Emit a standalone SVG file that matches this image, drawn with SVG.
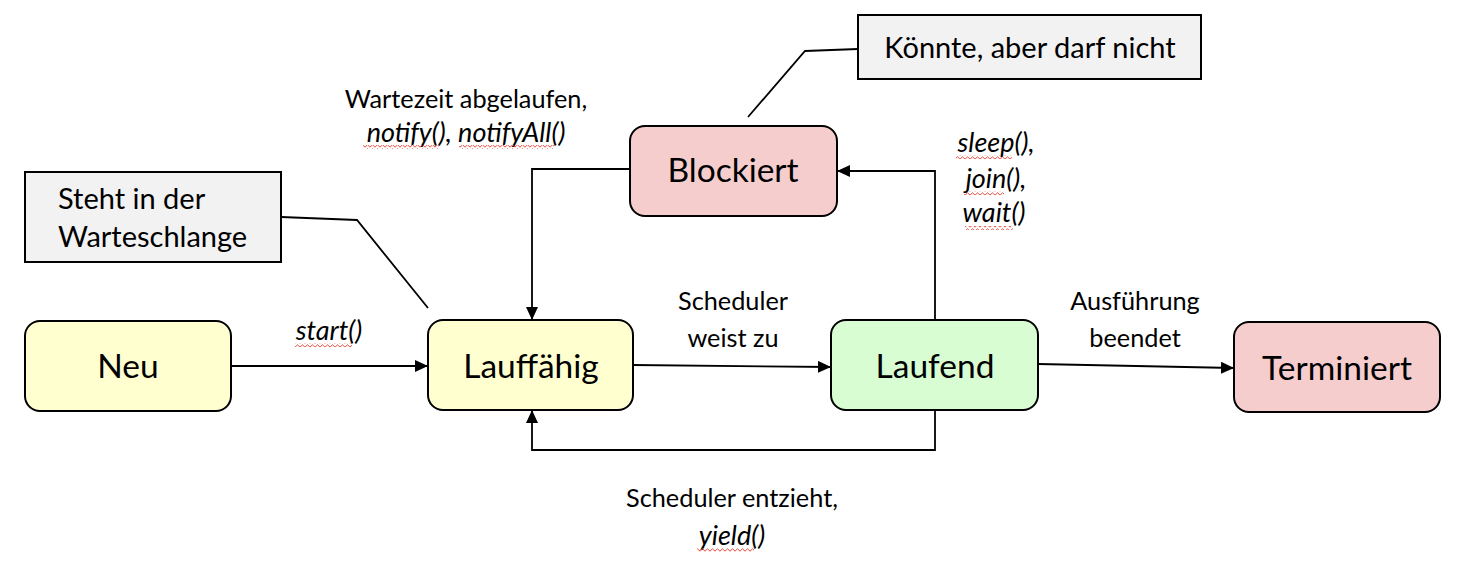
<svg xmlns="http://www.w3.org/2000/svg" width="1458" height="578" viewBox="0 0 1458 578">
<style>
.node{stroke:#000;stroke-width:2}
.y{fill:#FFFFCF}
.g{fill:#D8FDD2}
.r{fill:#F6CDCD}
.note{fill:#F2F2F2;stroke:#000;stroke-width:2}
.nl{font-family:Lato,"Open Sans",sans-serif;font-size:33.5px;fill:#000;text-anchor:middle}
.lb{font-family:Lato,"Open Sans",sans-serif;font-size:25.3px;fill:#000;text-anchor:middle}
.it{font-style:italic;font-size:27px}
.nt{font-family:Lato,"Open Sans",sans-serif;font-size:29px;fill:#000}
.conn{fill:none;stroke:#000;stroke-width:1.8}
.sq{fill:url(#squig)}
</style>
<defs>
<marker id="arr" viewBox="0 0 13 12" refX="13" refY="6" markerWidth="13" markerHeight="12" markerUnits="userSpaceOnUse" orient="auto">
<path d="M0,0 L13,6 L0,12 Z" fill="#000"/>
</marker>
<pattern id="squig" width="5" height="4" patternUnits="userSpaceOnUse">
<path d="M0,3.2 L2.5,0.8 L5,3.2" fill="none" stroke="#E8453A" stroke-width="1"/>
</pattern>
</defs>

<g id="connectors">
<path class="conn" d="M232,366 L428,366" marker-end="url(#arr)"/>
<path class="conn" d="M633,365 L831,367" marker-end="url(#arr)"/>
<path class="conn" d="M1038,364 L1234,368" marker-end="url(#arr)"/>
<path class="conn" d="M935,320 L935,171 L837,171" marker-end="url(#arr)"/>
<path class="conn" d="M630,169 L532,169 L532,320" marker-end="url(#arr)"/>
<path class="conn" d="M935,410 L935,450 L532,450 L532,410" marker-end="url(#arr)"/>
<path class="conn" d="M281,217 L357,220 L428,308"/>
<path class="conn" d="M858,49 L805,51 L748,117"/>
</g>

<g id="neu">
<rect class="node y" x="25" y="321" width="206" height="90" rx="15"/>
<text class="nl" x="128" y="378">Neu</text>
</g>
<g id="lauffaehig">
<rect class="node y" x="428" y="320" width="205" height="90" rx="15"/>
<text class="nl" x="531" y="378">Lauffähig</text>
</g>
<g id="laufend">
<rect class="node g" x="831" y="320" width="207" height="90" rx="15"/>
<text class="nl" x="935" y="378">Laufend</text>
</g>
<g id="terminiert">
<rect class="node r" x="1234" y="322" width="206" height="90" rx="15"/>
<text class="nl" x="1337" y="380">Terminiert</text>
</g>
<g id="blockiert">
<rect class="node r" x="630" y="126" width="207" height="90" rx="15"/>
<text class="nl" x="733" y="182">Blockiert</text>
</g>
<g id="note-warteschlange">
<rect class="note" x="25" y="172" width="256" height="90"/>
<text class="nt" x="58" y="209">Steht in der</text>
<text class="nt" x="58" y="247">Warteschlange</text>
</g>
<g id="note-koennte">
<rect class="note" x="858" y="15" width="343" height="64"/>
<text class="nt" x="1030" y="58" text-anchor="middle">Könnte, aber darf nicht</text>
</g>

<g id="labels">
<text class="lb" x="466" y="108">Wartezeit abgelaufen,</text>
<text class="lb it" x="466" y="142">notify(), notifyAll()</text>
<rect class="sq" x="363" y="145" width="76" height="4"/>
<rect class="sq" x="459" y="145" width="95" height="4"/>
<text class="lb it" x="996" y="152">sleep(),</text>
<text class="lb it" x="996" y="188">join(),</text>
<text class="lb it" x="994" y="222">wait()</text>
<rect class="sq" x="956" y="155" width="56" height="4"/>
<rect class="sq" x="964" y="191" width="40" height="4"/>
<rect class="sq" x="965" y="226" width="48" height="4"/>
<text class="lb it" x="329" y="340">start()</text>
<rect class="sq" x="295" y="343" width="57" height="4"/>
<text class="lb" x="733" y="310">Scheduler</text>
<text class="lb" x="733" y="347">weist zu</text>
<text class="lb" x="1135" y="310">Ausführung</text>
<text class="lb" x="1135" y="347">beendet</text>
<text class="lb" x="732" y="507">Scheduler entzieht,</text>
<text class="lb it" x="732" y="545">yield()</text>
<rect class="sq" x="697" y="548" width="57" height="4"/>
</g>
</svg>
